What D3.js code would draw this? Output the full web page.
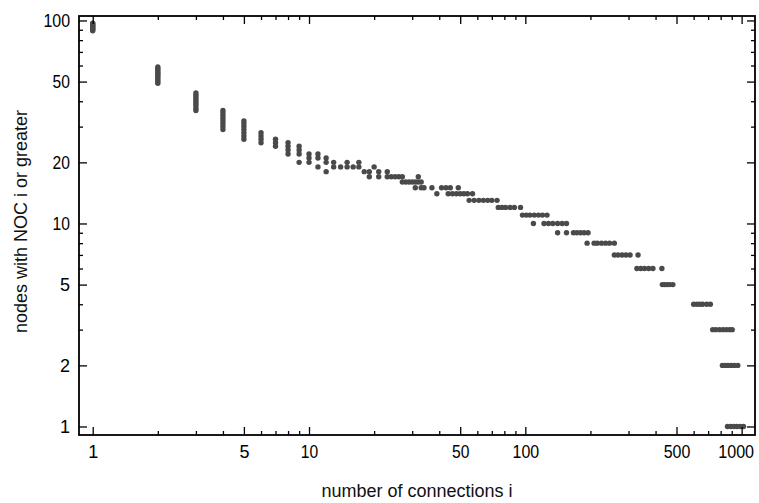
<!DOCTYPE html>
<html>
<head>
<meta charset="utf-8">
<script src="https://cdn.jsdelivr.net/npm/d3@7"></script>
<style>
  html, body { margin: 0; padding: 0; background: #fff; }
  svg { display: block; }
</style>
</head>
<body>
<svg id="chart" width="759" height="503"></svg>
<script>
// ---- data ----
// vertical clusters: connection count -> node counts observed
const columnConnections = [1, 2, 3, 4, 5, 6, 7, 8, 9, 10, 11, 12, 13, 14, 15, 16, 17, 18, 19, 20, 21, 23];
const columnNodes = [
  [89, 90, 91, 92, 93, 94, 95, 96, 97],
  [49, 50, 51, 52, 53, 54, 55, 56, 57, 58, 59],
  [36, 37, 38, 39, 40, 41, 42, 43, 44],
  [29, 30, 31, 32, 33, 34, 35, 36],
  [26, 27, 28, 29, 30, 31, 32],
  [25, 26, 27, 28],
  [24, 25, 26],
  [22, 23, 24, 25],
  [20, 22, 23, 24],
  [20, 21, 22],
  [19, 21, 22],
  [18, 20, 21],
  [19, 20],
  [19],
  [19, 20],
  [19],
  [19, 20],
  [18],
  [17, 18],
  [19],
  [17, 18],
  [17, 18]
];
// horizontal clusters: node count -> connection counts observed
const rowNodes = [17, 16, 15, 14, 13, 12, 11, 10, 9, 8, 7, 6, 5, 4, 3, 2, 1];
const rowConnections = [
  [24, 25, 26, 27, 32],
  [27, 28, 29, 30, 31, 32, 33],
  [31, 33, 34, 37, 41, 43, 45, 49],
  [39, 44, 46, 48, 50, 52, 54, 57],
  [55, 58, 61, 64, 67, 70, 74],
  [75, 78, 81, 85, 89, 95],
  [97, 101, 105, 110, 115, 120, 126],
  [109, 122, 128, 134, 141, 148, 155],
  [141, 155, 167, 173, 180, 187, 195],
  [193, 208, 215, 225, 235, 245, 258],
  [258, 268, 280, 292, 305, 332],
  [328, 342, 356, 372, 389, 428],
  [430, 440, 452, 465, 481],
  [600, 620, 640, 660, 690, 717],
  [735, 760, 790, 820, 850, 880, 905],
  [815, 840, 865, 895, 925, 960],
  [860, 890, 920, 950, 985, 1020]
];
const xMajorTicks = [1, 5, 10, 50, 100, 500, 1000];
const xMinorTicks = [2, 3, 4, 6, 7, 8, 9, 20, 30, 40, 60, 70, 80, 90, 200, 300, 400, 600, 700, 800, 900];
const yMajorTicks = [1, 2, 5, 10, 20, 50, 100];
const yMinorTicks = [3, 4, 6, 7, 8, 9, 30, 40, 60, 70, 80, 90];
const xTitle = "number of connections i";
const yTitle = "nodes with NOC i or greater";

// ---- build point list ----
const points = [];
columnConnections.forEach((c, i) => columnNodes[i].forEach(n => points.push([c, n])));
rowNodes.forEach((n, i) => rowConnections[i].forEach(c => points.push([c, n])));

// ---- layout ----
const L = 79, R = 755, T = 16, B = 435;
const svg = d3.select("#chart");
const x = d3.scaleLog().domain([0.8642, 1153]).range([L, R]);
const y = d3.scaleLog().domain([0.908, 105.2]).range([B, T]);

const tickFont = "'Liberation Sans', Arial, sans-serif";
const titleFont = "'Liberation Sans', Arial, sans-serif";

function styleAxis(g) {
  g.select(".domain").remove();
  g.selectAll(".tick line").attr("stroke", "#000").attr("stroke-width", 1.3);
  g.selectAll(".tick text").attr("fill", "#000").style("font-family", tickFont).style("font-size", "18px")
    .each(function () {
      const s = this.textContent;
      if (s.length > 1) {
        d3.select(this).attr("textLength", s.length * 9.2 - 1).attr("lengthAdjust", "spacingAndGlyphs");
      }
    });
}

// points
svg.append("g").selectAll("circle").data(points).join("circle")
  .attr("cx", d => x(d[0]))
  .attr("cy", d => y(d[1]))
  .attr("r", 2.7)
  .attr("fill", "#4a4a4a");

// bottom axis
const gx = svg.append("g").attr("transform", `translate(0,${B})`)
  .call(d3.axisBottom(x).tickValues(xMajorTicks).tickFormat(d3.format("d")).tickSizeInner(-8).tickSizeOuter(0).tickPadding(10))
  .call(styleAxis);
// keep the last label inside the picture, as in the reference
gx.selectAll(".tick text").filter(d => d === 1000).attr("dx", -6);
svg.append("g").attr("transform", `translate(0,${B})`)
  .call(d3.axisBottom(x).tickValues(xMinorTicks).tickFormat("").tickSizeInner(-4).tickSizeOuter(0))
  .call(styleAxis);
// top axis (ticks only)
svg.append("g").attr("transform", `translate(0,${T})`)
  .call(d3.axisTop(x).tickValues(xMajorTicks).tickFormat("").tickSizeInner(-8).tickSizeOuter(0))
  .call(styleAxis);
svg.append("g").attr("transform", `translate(0,${T})`)
  .call(d3.axisTop(x).tickValues(xMinorTicks).tickFormat("").tickSizeInner(-4).tickSizeOuter(0))
  .call(styleAxis);
// left axis
svg.append("g").attr("transform", `translate(${L},0)`)
  .call(d3.axisLeft(y).tickValues(yMajorTicks).tickFormat(d3.format("d")).tickSizeInner(-8).tickSizeOuter(0).tickPadding(9))
  .call(styleAxis);
svg.append("g").attr("transform", `translate(${L},0)`)
  .call(d3.axisLeft(y).tickValues(yMinorTicks).tickFormat("").tickSizeInner(-4).tickSizeOuter(0))
  .call(styleAxis);
// right axis (ticks only)
svg.append("g").attr("transform", `translate(${R},0)`)
  .call(d3.axisRight(y).tickValues(yMajorTicks).tickFormat("").tickSizeInner(-8).tickSizeOuter(0))
  .call(styleAxis);
svg.append("g").attr("transform", `translate(${R},0)`)
  .call(d3.axisRight(y).tickValues(yMinorTicks).tickFormat("").tickSizeInner(-4).tickSizeOuter(0))
  .call(styleAxis);

// frame
svg.append("rect").attr("x", L).attr("y", T).attr("width", R - L).attr("height", B - T)
  .attr("fill", "none").attr("stroke", "#000").attr("stroke-width", 1.8);

// titles
svg.append("text").attr("x", (L + R) / 2).attr("y", 497)
  .attr("text-anchor", "middle").attr("fill", "#111")
  .style("font-family", titleFont).style("font-size", "18px").text(xTitle);
svg.append("text").attr("transform", `translate(27,${(T + B) / 2 - 4}) rotate(-90)`)
  .attr("text-anchor", "middle").attr("fill", "#111")
  .style("font-family", titleFont).style("font-size", "18px").text(yTitle);
</script>
</body>
</html>
